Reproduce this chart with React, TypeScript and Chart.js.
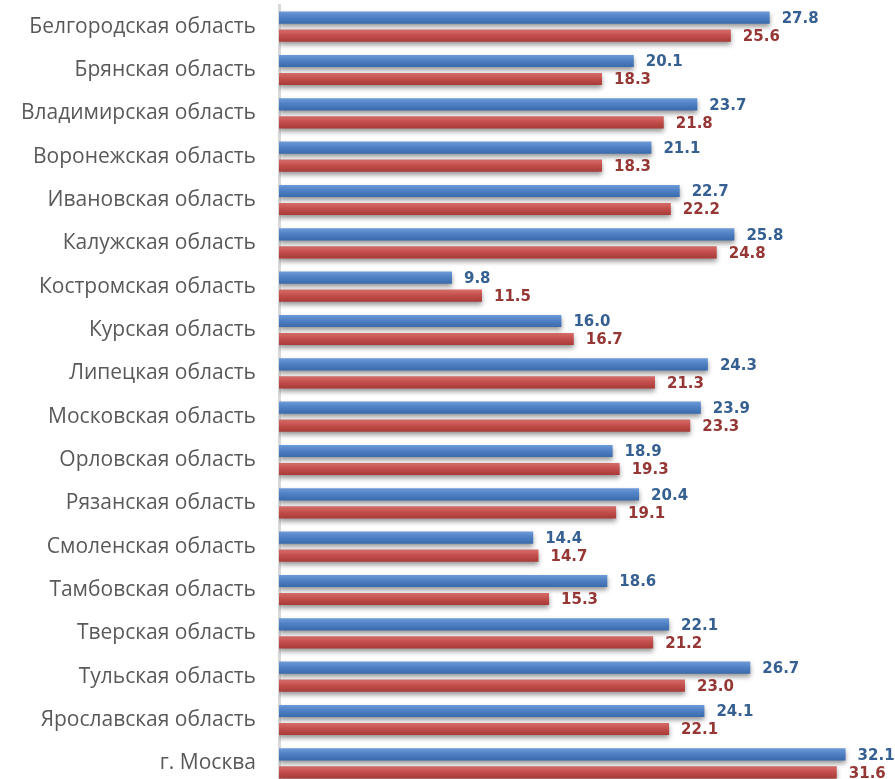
import React, { useEffect, useRef } from 'react';
import { Chart, registerables } from 'chart.js';

Chart.register(...registerables);

const categories = [
  'Белгородская область',
  'Брянская область',
  'Владимирская область',
  'Воронежская область',
  'Ивановская область',
  'Калужская область',
  'Костромская область',
  'Курская область',
  'Липецкая область',
  'Московская область',
  'Орловская область',
  'Рязанская область',
  'Смоленская область',
  'Тамбовская область',
  'Тверская область',
  'Тульская область',
  'Ярославская область',
  'г. Москва',
];

const seriesBlue = [27.8, 20.1, 23.7, 21.1, 22.7, 25.8, 9.8, 16.0, 24.3, 23.9, 18.9, 20.4, 14.4, 18.6, 22.1, 26.7, 24.1, 32.1];
const seriesRed = [25.6, 18.3, 21.8, 18.3, 22.2, 24.8, 11.5, 16.7, 21.3, 23.3, 19.3, 19.1, 14.7, 15.3, 21.2, 23.0, 22.1, 31.6];

const gradientStops = [
  [[0, '#6e9bd8'], [0.45, '#4f81c4'], [1, '#3a6aab']],
  [[0, '#d96f6c'], [0.45, '#c4504d'], [1, '#a83a37']],
];
const labelColors = ['#376092', '#953735'];

const barStylePlugin = {
  id: 'barStyle',
  beforeDatasetsDraw(chart: any) {
    const ctx = chart.ctx;
    ctx.save();
    ctx.shadowColor = 'rgba(0,0,0,0.42)';
    ctx.shadowBlur = 5;
    ctx.shadowOffsetX = 0;
    ctx.shadowOffsetY = 3;
    chart.data.datasets.forEach((_ds: any, di: number) => {
      const meta = chart.getDatasetMeta(di);
      meta.data.forEach((el: any) => {
        const top = el.y - el.height / 2;
        const bot = el.y + el.height / 2;
        const g = ctx.createLinearGradient(0, top, 0, bot);
        gradientStops[di].forEach(([o, c]: any) => g.addColorStop(o, c));
        el.options = Object.assign({}, el.options, { backgroundColor: g });
      });
    });
  },
  afterDatasetsDraw(chart: any) {
    const ctx = chart.ctx;
    ctx.restore();
    ctx.save();
    ctx.font = 'bold 15px "DejaVu Sans"';
    ctx.textAlign = 'left';
    ctx.textBaseline = 'middle';
    chart.data.datasets.forEach((ds: any, di: number) => {
      const meta = chart.getDatasetMeta(di);
      ctx.fillStyle = labelColors[di];
      meta.data.forEach((el: any, i: number) => {
        ctx.fillText(Number(ds.data[i]).toFixed(1), el.x + 12, el.y + 1.5);
      });
    });
    ctx.restore();
  },
};

export default function App() {
  const ref = useRef<HTMLCanvasElement | null>(null);

  useEffect(() => {
    if (!ref.current) return;
    const chart = new Chart(ref.current, {
      type: 'bar',
      data: {
        labels: categories,
        datasets: [
          { label: 'blue', data: seriesBlue, backgroundColor: '#4f81bd', borderWidth: 0, categoryPercentage: 0.83, barPercentage: 0.68 },
          { label: 'red', data: seriesRed, backgroundColor: '#c0504d', borderWidth: 0, categoryPercentage: 0.83, barPercentage: 0.68 },
        ],
      },
      options: {
        indexAxis: 'y',
        responsive: false,
        animation: false,
        layout: { padding: { top: 5, left: 0, right: 0, bottom: 0 } },
        plugins: {
          legend: { display: false },
          tooltip: { enabled: false },
        },
        scales: {
          x: { display: false, min: 0, max: 34.9 },
          y: {
            grid: { display: false, drawTicks: false },
            border: { display: true, color: '#d9d9d9', width: 3 },
            ticks: {
              color: '#595959',
              padding: 23,
              font: { family: '"Open Sans"', size: 21 },
            },
            afterFit: (scale: any) => {
              scale.width = 279;
              scale.paddingTop = 0;
              scale.paddingBottom = 0;
            },
          },
        },
      },
      plugins: [barStylePlugin],
    });
    return () => chart.destroy();
  }, []);

  return (
    <div style={{ position: 'absolute', left: 0, top: 0, width: 895, height: 779, overflow: 'hidden', background: '#fff' }}>
      <canvas ref={ref} width={895} height={785} style={{ display: 'block' }} />
    </div>
  );
}
